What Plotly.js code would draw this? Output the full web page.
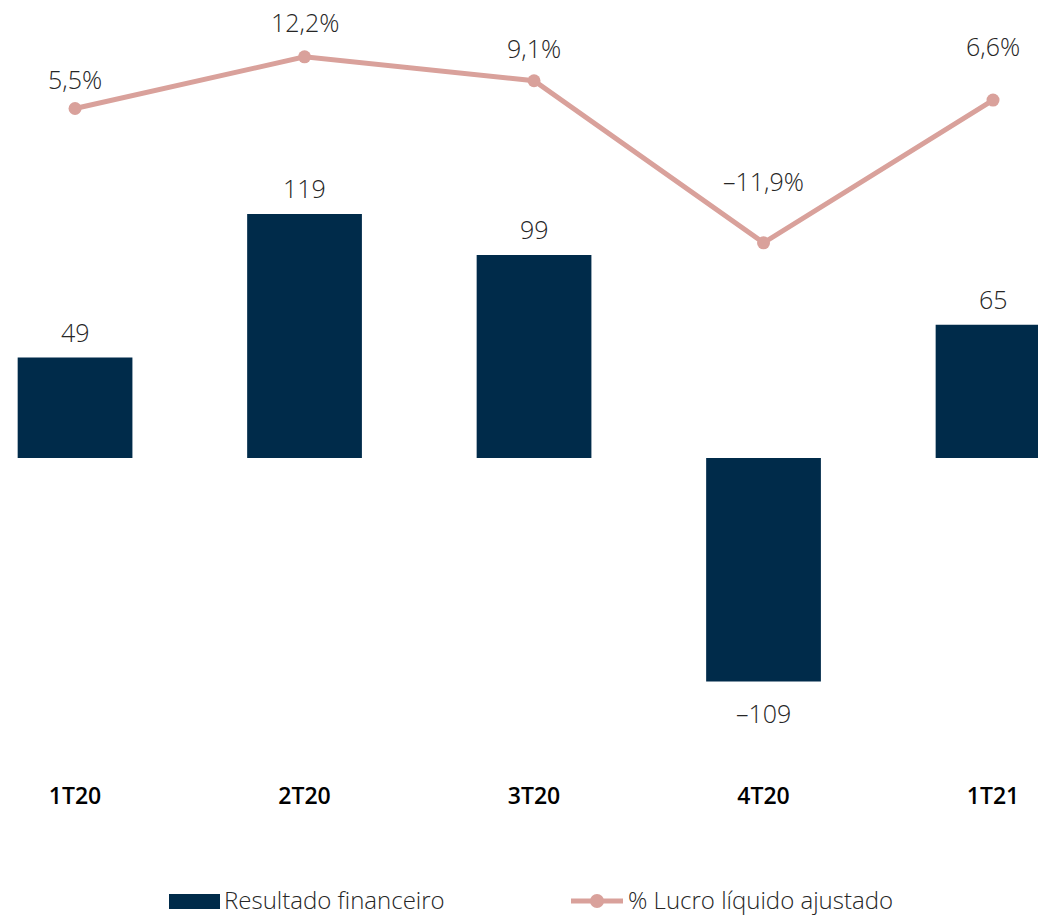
<!DOCTYPE html>
<html>
<head>
<meta charset="utf-8">
<script src="https://cdn.plot.ly/plotly-3.0.1.min.js"></script>
<style>html,body{margin:0;padding:0;background:#fff}#chart{width:1038px;height:918px}</style>
</head>
<body>
<div id="chart"></div>
<script>
const categories = ["1T20", "2T20", "3T20", "4T20", "1T21"];
const resultadoFinanceiro = [49, 119, 99, -109, 65];
const lucroLiquidoPct = [5.5, 12.2, 9.1, -11.9, 6.6];
const barLabels = ["49", "119", "99", "-109", "65"];
const lineLabels = ["5,5%", "12,2%", "9,1%", "-11,9%", "6,6%"];
const seriesNames = ["Resultado financeiro", "% Lucro líquido ajustado"];

// style: vertical offsets (px) of the line labels above their points
const lineLabelShift = [30, 35, 33, 62, 54];

const FONT = "Open Sans, Noto Sans, sans-serif";
const BAR_COLOR = "#002B4A";
const LINE_COLOR = "#D9A19B";
const TXT = "#262626";
const LBL_SIZE = 25;

const traces = [
  {
    type: "bar",
    name: seriesNames[0],
    x: categories,
    y: resultadoFinanceiro,
    marker: {color: BAR_COLOR},
    hoverinfo: "skip",
    showlegend: false
  },
  {
    type: "scatter",
    mode: "lines+markers",
    name: seriesNames[1],
    x: categories,
    y: lucroLiquidoPct,
    yaxis: "y2",
    cliponaxis: false,
    line: {color: LINE_COLOR, width: 5},
    marker: {color: LINE_COLOR, size: 13},
    hoverinfo: "skip",
    showlegend: false
  }
];

const annotations = [];
categories.forEach((c, i) => {
  const v = resultadoFinanceiro[i];
  annotations.push({
    x: c, y: v, xref: "x", yref: "y",
    text: barLabels[i].replace("-", "\u2013"),
    showarrow: false,
    yshift: v >= 0 ? 26 : -32,
    font: {family: FONT, size: LBL_SIZE, color: TXT, weight: 300}
  });
  annotations.push({
    x: c, y: lucroLiquidoPct[i], xref: "x", yref: "y2",
    text: lineLabels[i].replace("-", "\u2013"),
    showarrow: false,
    yshift: lineLabelShift[i],
    font: {family: FONT, size: LBL_SIZE, color: TXT, weight: 300}
  });
});

// custom legend (paper coords relative to the plot area: 1038 x 780)
const W = 1038, PH = 780;
const py = p => 1 - p / PH, px = p => p / W;
annotations.push({
  xref: "paper", yref: "paper", x: px(222), y: py(900), xanchor: "left", yanchor: "middle",
  text: seriesNames[0], showarrow: false,
  font: {family: FONT, size: 24, color: TXT, weight: 300}
});
annotations.push({
  xref: "paper", yref: "paper", x: px(626), y: py(900), xanchor: "left", yanchor: "middle",
  text: seriesNames[1], showarrow: false,
  font: {family: FONT, size: 24, color: TXT, weight: 300}
});
const shapes = [
  {type: "rect", xref: "paper", yref: "paper", x0: px(169), x1: px(220), y0: py(894), y1: py(909),
   fillcolor: BAR_COLOR, line: {width: 0}},
  {type: "line", xref: "paper", yref: "paper", x0: px(571), x1: px(623), y0: py(901), y1: py(901),
   line: {color: LINE_COLOR, width: 5}},
  {type: "circle", xref: "paper", yref: "paper", x0: px(590), x1: px(604), y0: py(894), y1: py(908),
   fillcolor: LINE_COLOR, line: {width: 0}}
];

const layout = {
  width: W,
  height: 918,
  margin: {l: 0, r: 0, t: 0, b: 138},
  paper_bgcolor: "#fff",
  plot_bgcolor: "#fff",
  bargap: 0.5,
  showlegend: false,
  annotations: annotations,
  shapes: shapes,
  xaxis: {
    type: "category",
    range: [-0.327, 4.196],
    showgrid: false, zeroline: false, showline: false, ticks: "",
    tickfont: {family: FONT, size: 23, color: "#000", weight: 600},
    ticklabelstandoff: 0
  },
  yaxis: {
    range: [-157.1, 223.4],
    visible: false, showgrid: false, zeroline: false
  },
  yaxis2: {
    overlaying: "y",
    side: "right",
    range: [-81.5, 19.56],
    visible: false, showgrid: false, zeroline: false
  }
};

Plotly.newPlot("chart", traces, layout, {displayModeBar: false, staticPlot: true});
</script>
</body>
</html>
